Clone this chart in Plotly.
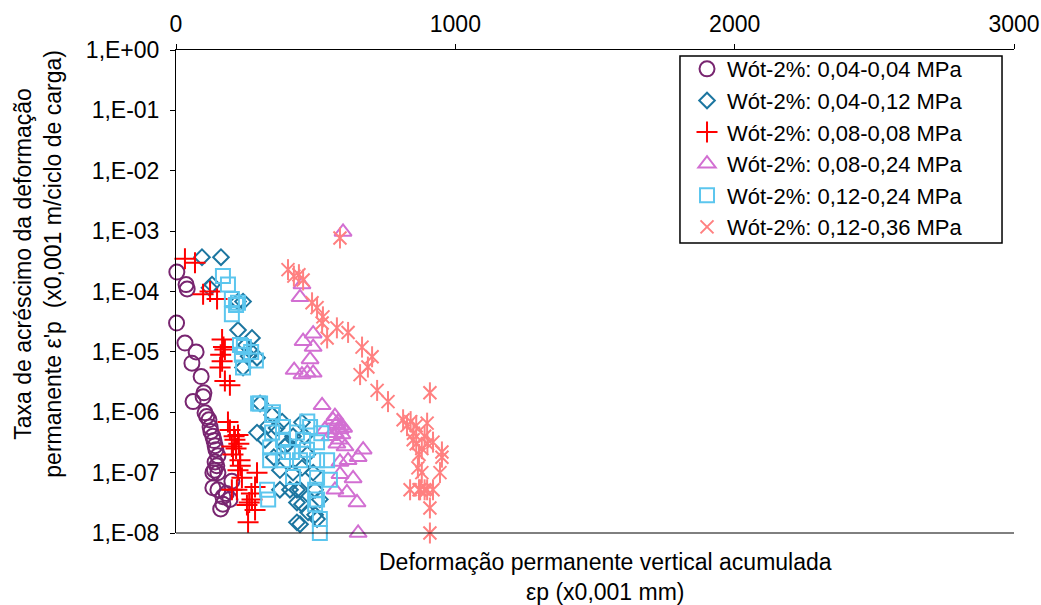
import plotly.graph_objects as go

# Accumulated permanent deformation (x0,001 mm) and deformation rate (x0,001 m/cycle)
c1_x = [3, 36, 40, 2, 32, 72, 57, 90, 100, 97, 61, 104, 110, 118, 122, 125, 132, 136, 140,
        143, 150, 140, 146, 132, 150, 138, 200, 132, 150, 168, 168, 193, 180, 160]
c1_y = [2.1e-4, 1.3e-4, 1.1e-4, 3.0e-5, 1.4e-5, 1.0e-5, 6.5e-6, 3.9e-6, 2.1e-6, 1.8e-6, 1.5e-6,
        9.8e-7, 8.5e-7, 7.5e-7, 5.7e-7, 4.8e-7, 4.0e-7, 3.4e-7, 2.8e-7, 2.4e-7, 1.9e-7, 1.5e-7,
        1.3e-7, 1.0e-7, 1.0e-7, 1.1e-7, 7.2e-8, 5.6e-8, 5.2e-8, 4.0e-8, 3.0e-8, 3.6e-8, 4.5e-8, 2.5e-8]

c2_x = [93, 161, 129, 120, 222, 240, 222, 272, 250, 290, 240, 270, 260,
        301, 344, 380, 319, 419, 451, 390, 290, 372, 419, 451, 491, 372, 408, 444, 451, 473,
        444, 498, 505, 498, 515, 433, 433, 433, 360, 400, 470, 330, 350, 460]
c2_y = [3.7e-4, 3.7e-4, 1.3e-4, 1.15e-4, 6.8e-5, 6.8e-5, 2.3e-5, 1.7e-5, 1.3e-5, 8.0e-6, 5.5e-6,
        1.0e-5, 8.5e-6,
        1.4e-6, 9.0e-7, 7.0e-7, 3.5e-7, 4.0e-7, 6.8e-7, 2.7e-7, 4.6e-7, 1.1e-7, 1.0e-7, 1.2e-7,
        1.0e-7, 5.2e-8, 5.2e-8, 5.2e-8, 3.0e-8, 2.2e-8, 1.4e-8, 2.0e-8, 1.7e-8, 5.2e-8, 3.6e-8,
        5.2e-8, 3.2e-8, 1.5e-8, 5.5e-7, 3.0e-7, 2.0e-7, 6.0e-7, 1.8e-7, 4.0e-7]

c3_x = [32, 68, 97, 122, 147, 165, 175, 165, 158, 175, 193, 170, 160,
        186, 193, 222, 211, 200, 204, 229, 222, 236, 290, 283, 200, 218, 272, 254, 283, 258,
        215, 225, 208, 230, 270, 262]
c3_y = [3.5e-4, 3.0e-4, 9.0e-5, 1.0e-4, 7.5e-5, 1.6e-5, 1.1e-5, 7.0e-6, 5.5e-6, 3.3e-6, 2.8e-6,
        1.2e-5, 9.0e-6,
        6.9e-7, 5.1e-7, 4.2e-7, 3.5e-7, 2.7e-7, 2.0e-7, 1.6e-7, 1.1e-7, 8.2e-8, 1.0e-7, 5.8e-8,
        5.2e-8, 5.2e-8, 3.6e-8, 2.9e-8, 2.4e-8, 1.5e-8, 2.5e-7, 3.0e-7, 4.0e-7, 1.3e-7, 4.5e-8, 3.2e-8]

c4_x = [598, 451, 444, 491, 455, 491, 480, 423, 451, 491, 470,
        523, 569, 576, 533, 587, 551, 594, 576, 605, 670, 652, 616, 587, 587, 634, 569, 612,
        648, 652, 562, 580, 590, 600, 585, 570]
c4_y = [9.7e-4, 1.3e-4, 8.0e-5, 2.0e-5, 1.5e-5, 1.2e-5, 7.5e-6, 5.0e-6, 4.2e-6, 4.5e-6, 4.5e-6,
        1.3e-6, 8.6e-7, 6.4e-7, 5.2e-7, 5.2e-7, 4.0e-7, 4.3e-7, 3.0e-7, 2.7e-7, 2.4e-7, 1.8e-7,
        1.6e-7, 1.5e-7, 9.4e-8, 8.0e-8, 5.2e-8, 4.7e-8, 3.2e-8, 1.0e-8, 7.5e-7, 7.0e-7, 6.0e-7,
        5.5e-7, 3.5e-7, 4.5e-7]

c5_x = [168, 186, 200, 222, 200, 229, 243, 269, 240, 286, 215, 236,
        301, 344, 344, 383, 433, 480, 337, 383, 444, 505, 541, 419, 505, 551, 330, 505, 515, 515,
        383, 455, 505, 337, 415, 469, 498, 498, 294, 347, 326, 470, 400, 520]
c5_y = [1.8e-4, 1.3e-4, 7.5e-5, 6.5e-5, 4.2e-5, 1.3e-5, 1.2e-5, 1.0e-5, 5.5e-6, 7.2e-6, 6.0e-5,
        9.0e-6,
        1.4e-6, 9.0e-7, 4.6e-7, 5.7e-7, 4.6e-7, 5.7e-7, 1.6e-7, 1.6e-7, 1.6e-7, 1.6e-7, 1.6e-7,
        8.5e-8, 8.2e-8, 7.6e-8, 3.6e-8, 3.6e-8, 1.7e-8, 1.0e-8, 3.5e-7, 3.5e-7, 3.2e-7, 2.6e-7,
        2.2e-7, 2.4e-7, 5.2e-8, 3.0e-8, 1.4e-6, 1.0e-6, 5.2e-8, 7.0e-7, 2.2e-7, 4.5e-7]

c6_x = [587, 401, 422, 455, 440, 487, 505, 526, 523, 541, 576, 616, 666, 702, 687, 659, 720,
        759, 909, 813, 899, 849, 920, 952, 952, 866, 945, 838, 874, 899, 920, 909, 909,
        827, 850, 860, 880, 870, 890, 900, 880, 870, 890, 860, 840]
c6_y = [7.7e-4, 2.3e-4, 1.8e-4, 1.55e-4, 1.9e-4, 6.5e-5, 5.4e-5, 3.8e-5, 3.0e-5, 1.7e-5, 2.5e-5,
        2.1e-5, 1.2e-5, 8.3e-6, 5.6e-6, 4.2e-6, 2.3e-6, 1.5e-6, 2.1e-6, 7.5e-7, 6.6e-7, 3.5e-7,
        3.2e-7, 2.2e-7, 1.8e-7, 1.2e-7, 1.0e-7, 5.2e-8, 5.2e-8, 5.2e-8, 5.2e-8, 2.6e-8, 1.0e-8,
        6.0e-7, 4.5e-7, 3.0e-7, 2.5e-7, 2.0e-7, 4.0e-7, 3.0e-7, 1.0e-7, 5.2e-8, 5.2e-8, 6.0e-7, 7.0e-7]

series_names = ["Wót-2%: 0,04-0,04 MPa", "Wót-2%: 0,04-0,12 MPa", "Wót-2%: 0,08-0,08 MPa",
                "Wót-2%: 0,08-0,24 MPa", "Wót-2%: 0,12-0,24 MPa", "Wót-2%: 0,12-0,36 MPa"]

y_tickvals = [1e0, 1e-1, 1e-2, 1e-3, 1e-4, 1e-5, 1e-6, 1e-7, 1e-8]
y_ticktext = ["1,E+00", "1,E-01", "1,E-02", "1,E-03", "1,E-04", "1,E-05", "1,E-06", "1,E-07", "1,E-08"]
x_tickvals = [0, 1000, 2000, 3000]

FONT = "Liberation Sans, Arial, sans-serif"
FS = 23
LEG_FS = 22

fig = go.Figure()

styles = [
    dict(symbol="circle-open", color="#782570", size=15),
    dict(symbol="diamond-open", color="#1C76A0", size=12),
    dict(symbol="cross-thin-open", color="#FF0000", size=15),
    dict(symbol="triangle-up-open", color="#D26FD2", size=15),
    dict(symbol="square-open", color="#5CC6EE", size=14),
    dict(symbol="x-thin-open", color="#FF8080", size=13),
]
data = [(c1_x, c1_y), (c2_x, c2_y), (c3_x, c3_y), (c4_x, c4_y), (c5_x, c5_y), (c6_x, c6_y)]

for i, ((xs, ys), st, name) in enumerate(zip(data, styles, series_names)):
    fig.add_trace(go.Scatter(
        x=xs, y=ys, mode="markers", name=name, legendgroup=name,
        marker=dict(symbol=st["symbol"], size=st["size"], color=st["color"],
                    line=dict(width=2, color=st["color"])),
        cliponaxis=False,
    ))
    if i == 5:
        # vertical stroke completes the six-armed star marker
        fig.add_trace(go.Scatter(
            x=xs, y=ys, mode="markers", name=name, legendgroup=name, showlegend=False,
            marker=dict(symbol="line-ns-open", size=15, color=st["color"],
                        line=dict(width=2, color=st["color"])),
            cliponaxis=False,
        ))

fig.update_layout(
    width=1041, height=605,
    margin=dict(l=176, r=27, t=50, b=72, autoexpand=False),
    plot_bgcolor="white", paper_bgcolor="white",
    font=dict(family=FONT, size=FS, color="black"),
    showlegend=True,
    legend=dict(
        x=0.6098, y=1.004, xanchor="left", yanchor="top",
        borderwidth=0, bgcolor="rgba(0,0,0,0)",
        font=dict(family=FONT, size=LEG_FS, color="black"),
        itemwidth=30, tracegroupgap=0,
    ),
    xaxis=dict(
        side="top", range=[0, 3000], tickvals=x_tickvals, ticktext=[str(v) for v in x_tickvals],
        ticks="outside", ticklen=5, tickcolor="black", showline=True, linecolor="black",
        linewidth=1, showgrid=False, zeroline=False, tickfont=dict(size=FS),
        ticklabelstandoff=3, automargin=False,
    ),
    yaxis=dict(
        type="log", range=[-8, 0], tickvals=y_tickvals, ticktext=y_ticktext,
        ticks="outside", ticklen=5, tickcolor="black", showline=True, linecolor="black",
        linewidth=1, showgrid=False, zeroline=False, tickfont=dict(size=FS),
        ticklabelstandoff=6, automargin=False,
    ),
    shapes=[
        # bottom frame line of the plot area
        dict(type="line", xref="paper", yref="paper", x0=0, x1=1, y0=0, y1=0,
             line=dict(color="black", width=1)),
        # legend frame
        dict(type="rect", xref="paper", yref="paper", x0=0.6014, x1=0.9857, y0=0.6004, y1=0.9876,
             line=dict(color="black", width=1.5), fillcolor="rgba(0,0,0,0)", layer="above"),
    ],
    annotations=[
        dict(text="Deformação permanente vertical acumulada<br>εp (x0,001 mm)",
             xref="paper", yref="paper", x=0.512, y=-0.03, xanchor="center", yanchor="top",
             showarrow=False, font=dict(size=FS)),
        dict(text="Taxa de acréscimo da deformação<br>permanente ε'p  (x0,001 m/ciclo de carga)",
             xref="paper", yref="paper", x=-0.165, y=0.557, xanchor="center", yanchor="middle",
             textangle=-90, showarrow=False, font=dict(size=FS)),
    ],
)

fig.write_html("out.html")
